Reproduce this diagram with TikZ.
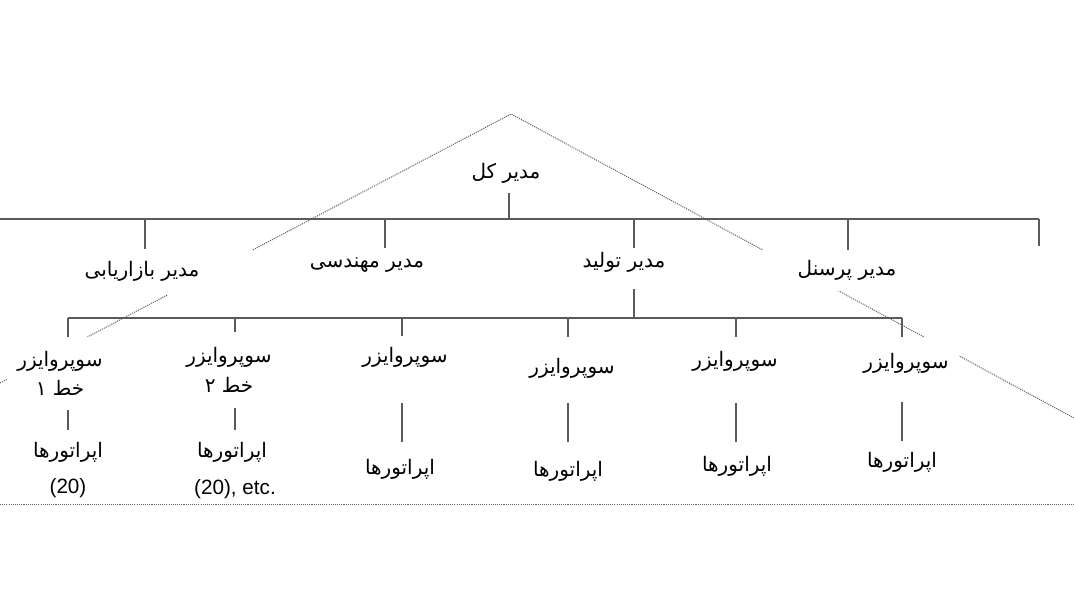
\documentclass[tikz,border=0pt]{standalone}
\usepackage{fontspec}
\setmainfont{Liberation Sans}
\newfontfamily\fa[Script=Arabic]{DejaVu Sans}
\TeXXeTstate=1
\definecolor{linec}{RGB}{90,90,90}
\definecolor{dotc}{RGB}{95,95,95}
\begin{document}
\begin{tikzpicture}[x=0.75pt,y=-0.75pt,
  conn/.style={draw=linec, line width=1.15pt},
  pyr/.style={draw=dotc, line width=0.75pt, dash pattern=on 0.8pt off 0.8pt},
  lbl/.style={fill=white, inner sep=0pt, anchor=base, font=\fa\fontsize{15}{22}\selectfont},
  two/.style={fill=white, inner sep=0pt, anchor=center, align=center, font=\fa\fontsize{15}{22}\selectfont},
  num/.style={inner sep=0pt, anchor=center, font=\fontsize{15.5}{18}\selectfont},
  hd/.style 2 args={text height=#1, text depth=#2}]
\useasboundingbox (0,0) rectangle (1074,613);
\fill[white] (0,0) rectangle (1074,613);
% background pyramid and base line
\coordinate (apex) at (511,114);
\coordinate (pl) at (0,383);
\coordinate (pr) at (1074,418);
\draw[pyr] (pl) -- (apex) -- (pr);
\coordinate (fl) at (0,504);
\coordinate (fr) at (1074,504);
\draw[pyr] (fl) -- (fr);
% level 0
\node[lbl, hd={14pt}{10.5pt}] (gm) at (506,179) {\beginR مدیر کل\endR};
% level 1
\node[lbl, hd={20.25pt}{14.25pt}, minimum width=165pt] (m1) at (142,276) {\beginR مدیر بازاریابی\endR};
\node[lbl, hd={14.25pt}{6pt}] (m2) at (367,267) {\beginR مدیر مهندسی\endR};
\node[lbl, hd={14.25pt}{16.5pt}] (m3) at (624,267) {\beginR مدیر تولید\endR};
\node[lbl, hd={18.75pt}{12pt}, minimum width=135pt] (m4) at (847,275) {\beginR مدیر پرسنل\endR};
% level 2
\node[two, minimum width=79.5pt, minimum height=54.75pt] (s1) at (60,373.5) {\beginR سوپروایزر\endR\\\beginR خط ۱\endR};
\node[two, minimum height=56.25pt] (s2) at (229,370) {\beginR سوپروایزر\endR\\\beginR خط ۲\endR};
\node[lbl, hd={19.5pt}{30.75pt}] (s3) at (405,362) {\beginR سوپروایزر\endR};
\node[lbl, hd={27pt}{22.5pt}] (s4) at (572,373) {\beginR سوپروایزر\endR};
\node[lbl, hd={21.75pt}{27.75pt}] (s5) at (735,366) {\beginR سوپروایزر\endR};
\node[lbl, hd={23.25pt}{25.5pt}, minimum width=79.5pt] (s6) at (906,368) {\beginR سوپروایزر\endR};
% level 3
\node[lbl, hd={20.25pt}{6pt}] (o1) at (68,457) {\beginR اپراتورها\endR};
\node[lbl, hd={20.25pt}{6pt}] (o2) at (232,457) {\beginR اپراتورها\endR};
\node[lbl, hd={24pt}{6pt}] (o3) at (400,474) {\beginR اپراتورها\endR};
\node[lbl, hd={25.5pt}{6pt}] (o4) at (568,476) {\beginR اپراتورها\endR};
\node[lbl, hd={21.75pt}{6pt}] (o5) at (737,471) {\beginR اپراتورها\endR};
\node[lbl, hd={19.5pt}{6pt}] (o6) at (902,467) {\beginR اپراتورها\endR};
\node[num] (n1) at (68,488) {(20)};
\node[num] (n2) at (235,489) {(20), etc.};
% junctions
\coordinate (b0) at (509,219);
\coordinate (bL) at (0,219);
\coordinate (bR) at (1039,219);
\coordinate (j1) at (145,219);
\coordinate (j2) at (385,219);
\coordinate (j3) at (634,219);
\coordinate (j4) at (848,219);
\coordinate (e5) at (1039,246);
\coordinate (c0) at (634,318);
\coordinate (c1) at (68,318);
\coordinate (c2) at (235,318);
\coordinate (c3) at (402,318);
\coordinate (c4) at (568,318);
\coordinate (c5) at (736,318);
\coordinate (c6) at (902,318);
% connectors
\draw[conn] (gm.south -| b0) -- (b0);
\draw[conn] (bL) -- (bR);
\draw[conn] (j1) -- (j1 |- m1.north);
\draw[conn] (j2) -- (j2 |- m2.north);
\draw[conn] (j3) -- (j3 |- m3.north);
\draw[conn] (j4) -- (j4 |- m4.north);
\draw[conn] (bR) -- (e5);
\draw[conn] (m3.south -| c0) -- (c0);
\draw[conn] (c1) -- (c6);
\foreach \i in {1,...,6}{
  \draw[conn] (c\i) -- (c\i |- s\i.north);
  \draw[conn] (s\i.south -| c\i) -- (c\i |- o\i.north);
}
\end{tikzpicture}
\end{document}
